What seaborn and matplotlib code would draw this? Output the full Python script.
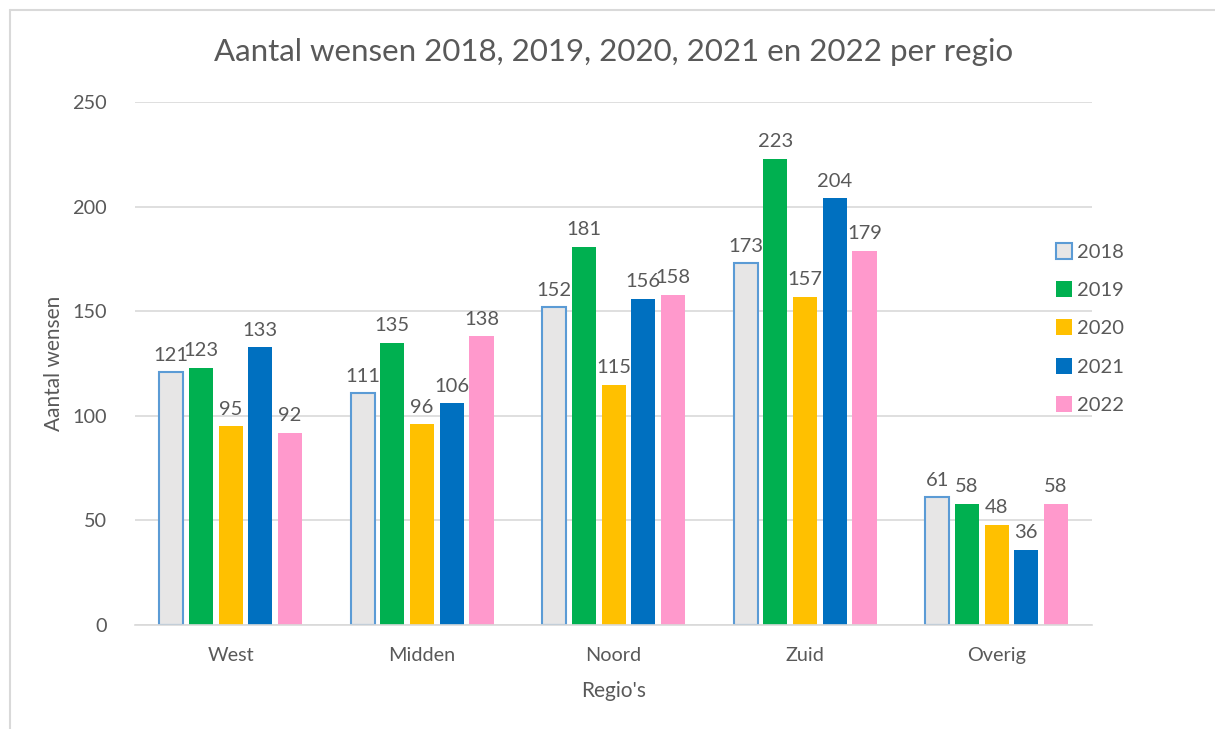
import pandas as pd
import matplotlib
matplotlib.use('Agg')
import matplotlib.pyplot as plt
from matplotlib.lines import Line2D
import seaborn as sns


regions = ['West', 'Midden', 'Noord', 'Zuid', 'Overig']
years = ['2018', '2019', '2020', '2021', '2022']
wensen_2018 = [121, 111, 152, 173, 61]
wensen_2019 = [123, 135, 181, 223, 58]
wensen_2020 = [95, 96, 115, 157, 48]
wensen_2021 = [133, 106, 156, 204, 36]
wensen_2022 = [92, 138, 158, 179, 58]

colors = ['#E7E6E6', '#00B050', '#FFC000', '#0070C0', '#FF99CC']
text_color = '#595959'
grid_color = '#D9D9D9'


def build_df():
    series = [wensen_2018, wensen_2019, wensen_2020, wensen_2021, wensen_2022]
    rows = []
    for year, values in zip(years, series):
        for region, v in zip(regions, values):
            rows.append({'regio': region, 'jaar': year, 'aantal': v})
    return pd.DataFrame(rows)


def main():
    sns.set_theme(style='white')
    plt.rcParams['font.family'] = ['Lato', 'DejaVu Sans']

    df = build_df()
    fig = plt.figure(figsize=(12.15, 7.29), dpi=100)
    ax = fig.add_axes([0.111, 0.1427, 0.788, 0.717])

    sns.barplot(data=df, x='regio', y='aantal', hue='jaar', order=regions,
                hue_order=years, palette=colors, width=0.776, gap=0.19,
                saturation=1, ax=ax, legend=False)

    # 2018 bars get the blue outline like in the original
    for i, container in enumerate(ax.containers):
        for bar in container:
            if i == 0:
                bar.set_edgecolor('#5B9BD5')
                bar.set_linewidth(1.5)
            else:
                bar.set_linewidth(0)
        ax.bar_label(container, padding=6, fontsize=14.5, color=text_color)

    ax.set_ylim(0, 250)
    ax.set_xlim(-0.5, 4.5)
    ax.set_yticks(range(0, 251, 50))
    ax.yaxis.grid(True, color=grid_color, linewidth=1.2)
    ax.set_axisbelow(True)
    for side in ['top', 'right', 'left']:
        ax.spines[side].set_visible(False)
    ax.spines['bottom'].set_color(grid_color)
    ax.spines['bottom'].set_linewidth(1.2)
    ax.tick_params(axis='both', length=0, labelsize=14.3, colors=text_color)
    ax.tick_params(axis='y', pad=20)
    ax.tick_params(axis='x', pad=16)

    ax.set_xlabel("Regio's", fontsize=15, color=text_color, labelpad=12)
    ax.set_ylabel('Aantal wensen', fontsize=15, color=text_color, labelpad=6)
    fig.text(0.505, 0.928, 'Aantal wensen 2018, 2019, 2020, 2021 en 2022 per regio',
             ha='center', va='center', fontsize=22.5, color=text_color)

    handles = []
    for i, c in enumerate(colors):
        edge = '#5B9BD5' if i == 0 else c
        handles.append(Line2D([], [], marker='s', linestyle='', markersize=11,
                              markerfacecolor=c, markeredgecolor=edge,
                              markeredgewidth=1.5 if i == 0 else 0))
    leg = fig.legend(handles, years, loc='center left',
                     bbox_to_anchor=(0.861, 0.549), frameon=False,
                     fontsize=14.5, labelspacing=1.05, handlelength=0.8,
                     handletextpad=0.25, borderpad=0)
    for t in leg.get_texts():
        t.set_color(text_color)

    # thin frame like the chart area border
    fig.add_artist(Line2D([0.0085, 0.0085], [0, 0.986], color='#D9D9D9', lw=1.5,
                          transform=fig.transFigure))
    fig.add_artist(Line2D([0.0085, 1], [0.986, 0.986], color='#D9D9D9', lw=1.5,
                          transform=fig.transFigure))

    fig.savefig('out.png', dpi=100)


if __name__ == "__main__":
    main()
